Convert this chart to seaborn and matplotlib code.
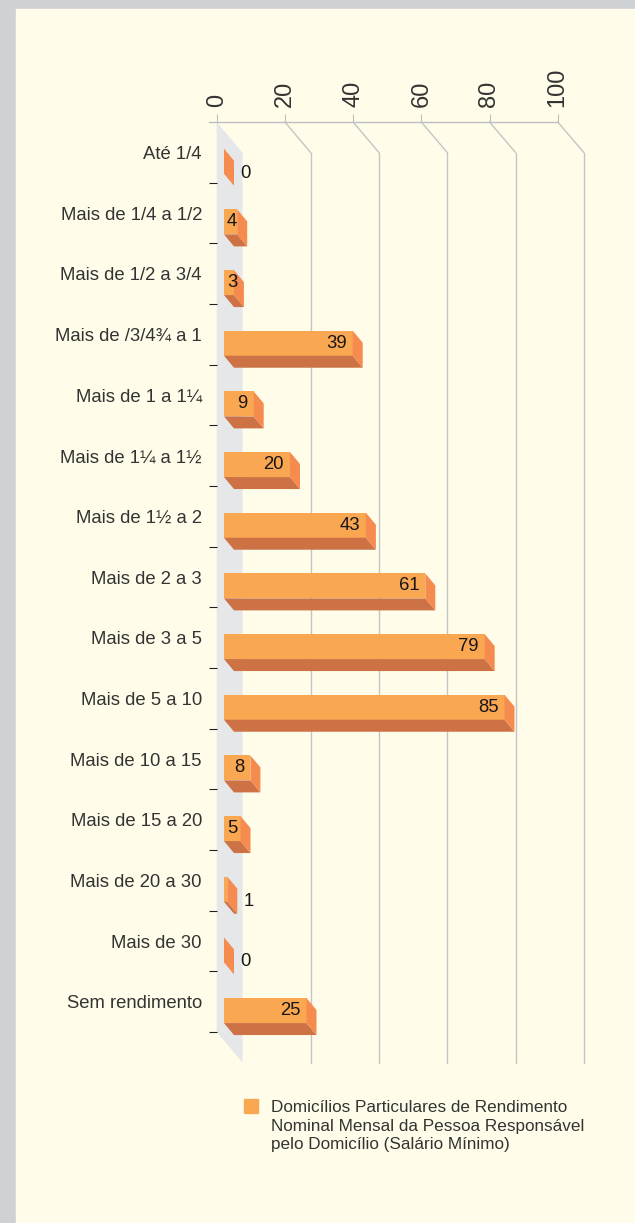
import matplotlib
matplotlib.use("Agg")
import matplotlib.pyplot as plt
from matplotlib.patches import Polygon, Rectangle
from matplotlib.lines import Line2D
import seaborn as sns
import pandas as pd

# ---- data -------------------------------------------------------------
categories = [
    "Até 1/4", "Mais de 1/4 a 1/2", "Mais de 1/2 a 3/4", "Mais de /3/4¾ a 1",
    "Mais de 1 a 1¼", "Mais de 1¼ a 1½", "Mais de 1½ a 2", "Mais de 2 a 3",
    "Mais de 3 a 5", "Mais de 5 a 10", "Mais de 10 a 15", "Mais de 15 a 20",
    "Mais de 20 a 30", "Mais de 30", "Sem rendimento",
]
values = [0, 4, 3, 39, 9, 20, 43, 61, 79, 85, 8, 5, 1, 0, 25]
x_ticks = [0, 20, 40, 60, 80, 100]
legend_label = ("Domicílios Particulares de Rendimento\n"
                "Nominal Mensal da Pessoa Responsável\n"
                "pelo Domicílio (Salário Mínimo)")

# ---- style ------------------------------------------------------------
BORDER = "#CED2D5"
CREAM = "#FFFDE9"
WALL = "#E6E7E8"
GRID = "#C4C4C4"
FRONT = "#FAA752"
SIDE = "#F68B4F"
BOTTOM = "#CC7245"
TEXT = "#333333"
VALUE = "#161616"

W, H, DPI = 635, 1223, 100
DX, DY = 10, -12          # bar depth offset in pixels

sns.set_theme(style="white")
plt.rcParams["font.family"] = ["Liberation Sans", "DejaVu Sans"]

fig = plt.figure(figsize=(W / DPI, H / DPI), dpi=DPI, facecolor=BORDER)


def box(x0, y0, x1, y1):
    """Pixel box (origin top-left) -> figure fraction rect."""
    return [x0 / W, 1 - y1 / H, (x1 - x0) / W, (y1 - y0) / H]


to_fig = fig.transFigure.inverted()

# cream panel
fig.patches.append(Rectangle((16 / W, 0), 1 - 16 / W, 1 - 9 / H,
                             transform=fig.transFigure, color=CREAM, zorder=-10))

# ---- back wall with vertical gridlines --------------------------------
ax_back = fig.add_axes(box(242.5, 152.7, 584, 1062.5))
ax_back.set_xlim(0, 100)
ax_back.set_ylim(0, 1)
ax_back.axis("off")
for t in x_ticks[1:]:
    ax_back.axvline(t, color=GRID, lw=1, clip_on=False)

# ---- front frame: value axis on top, categories on the left ------------
ax_front = fig.add_axes(box(216.7, 122, 557.7, 1032))
ax_front.patch.set_visible(False)
ax_front.set_xlim(0, 100)
ax_front.set_ylim(len(categories), 0)
for s in ["left", "right", "bottom"]:
    ax_front.spines[s].set_visible(False)
ax_front.spines["top"].set_color("#BDBEC2")
ax_front.spines["top"].set_linewidth(1)
ax_front.xaxis.tick_top()
ax_front.set_xticks(x_ticks)
ax_front.set_xticklabels([str(t) for t in x_ticks], rotation=90, fontsize=17, color=TEXT)
ax_front.tick_params(axis="x", which="major", length=5.8, width=0.8, color="#BDBEC2", pad=5)
ax_front.set_yticks([k + 1 for k in range(len(categories))])
ax_front.set_yticklabels([])
ax_front.set_yticks([k + 0.5 for k in range(len(categories))], minor=True)
ax_front.set_yticklabels(categories, minor=True, fontsize=13.3, color=TEXT)
ax_front.tick_params(axis="y", which="major", length=5.8, width=0.8, color="#222222", left=True)
ax_front.tick_params(axis="y", which="minor", length=0, pad=10.6, left=True)
ax_front.grid(False)
# short extension of the top rule to the left of zero
ax_front.plot([-8 / 3.41, 0], [0, 0], color="#BDBEC2", lw=1, clip_on=False)

# side wall and slanted connectors between front frame and back wall
def fig_pt(trans, p):
    return to_fig.transform(trans.transform(p))

wall = [fig_pt(ax_front.transAxes, (0, 1)),
        fig_pt(ax_back.transAxes, (0, 1)),
        fig_pt(ax_back.transAxes, (0, 0)),
        fig_pt(ax_front.transAxes, (0, 0))]
fig.patches.append(Polygon(wall, closed=True, transform=fig.transFigure,
                           facecolor=WALL, edgecolor="none", zorder=-5))
for t in x_ticks[1:]:
    p1 = fig_pt(ax_front.transData, (t, 0))
    p2 = fig_pt(ax_back.transData, (t, 1))
    fig.lines.append(Line2D([p1[0], p2[0]], [p1[1], p2[1]], transform=fig.transFigure,
                            color=GRID, lw=1, zorder=-4))

# ---- bars ---------------------------------------------------------------
df = pd.DataFrame({"categoria": categories, "valor": values})
ax_bar = fig.add_axes(box(224, 130.9, 554, 1040.9))
ax_bar.patch.set_visible(False)
sns.barplot(data=df, x="valor", y="categoria", orient="h", ax=ax_bar,
            color=FRONT, saturation=1, width=0.412, linewidth=0, errorbar=None)
ax_bar.set_xlim(0, 100)
ax_bar.set_ylim(len(categories) - 0.5, -0.5)
ax_bar.axis("off")

for p in list(ax_bar.patches):
    x0, y0, w, h = p.get_x(), p.get_y(), p.get_width(), p.get_height()
    (xl, ya), (xr, yb) = ax_bar.transData.transform([(x0, y0), (x0 + w, y0 + h)])
    ytop, ybot = max(ya, yb), min(ya, yb)
    side = [(xr, ytop), (xr + DX, ytop + DY), (xr + DX, ybot + DY), (xr, ybot)]
    bottom = [(xl, ybot), (xr, ybot), (xr + DX, ybot + DY), (xl + DX, ybot + DY)]
    for pts, col in ((bottom, BOTTOM), (side, SIDE)):
        ax_bar.add_artist(Polygon(to_fig.transform(pts), closed=True,
                                  transform=fig.transFigure, facecolor=col,
                                  edgecolor="none", clip_on=False, zorder=1))

# value labels
px_per_unit = 330 / 100
digit_px = 0.556 * 13.3 * DPI / 72
for k, v in enumerate(values):
    label = str(v)
    text_w = digit_px * len(label)
    if v <= 1:
        ax_bar.annotate(label, (v, k), xytext=(16, -12), textcoords="offset pixels",
                        ha="left", va="center", fontsize=13.3, color=VALUE, zorder=5)
    elif v * px_per_unit < text_w + 8:
        ax_bar.annotate(label, (0, k), xytext=(3, 0), textcoords="offset pixels",
                        ha="left", va="center", fontsize=13.3, color=VALUE, zorder=5)
    else:
        ax_bar.annotate(label, (v, k), xytext=(-6, 0), textcoords="offset pixels",
                        ha="right", va="center", fontsize=13.3, color=VALUE, zorder=5)

# ---- legend -------------------------------------------------------------
fig.patches.append(Rectangle(box(244, 1099, 258, 1113)[:2], 14 / W, 14 / H,
                             transform=fig.transFigure, color=FRONT, zorder=2))
fig.text(271 / W, 1 - 1100 / H, legend_label, ha="left", va="top",
         fontsize=12.3, color=TEXT, linespacing=1.3)

fig.savefig("out.png", dpi=DPI, facecolor=BORDER)
